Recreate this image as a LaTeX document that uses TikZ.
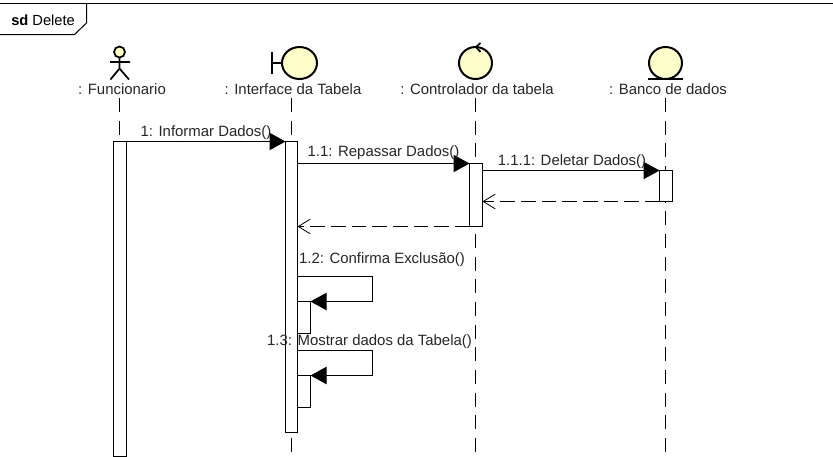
\documentclass[tikz,border=0pt]{standalone}
\usepackage{fontspec}
\setmainfont{Liberation Sans}
\usetikzlibrary{arrows.meta}
\definecolor{elemfill}{HTML}{FFFFCC}
\tikzset{
  x=0.75pt,y=-0.75pt,
  ln/.style={line width=0.75pt,draw=black},
  lifeline/.style={line width=0.75pt,draw=black,dash pattern=on 10.5pt off 6.5pt},
  activation/.style={ln,fill=white,rectangle,inner sep=0pt,outer sep=0pt,minimum width=#1},
  headlabel/.style={font=\fontsize{11.2}{13}\selectfont,inner sep=0pt,text=black!85},
  msglabel/.style={font=\fontsize{11.2}{13}\selectfont,inner sep=0pt,text=black!85},
  callmsg/.style={ln,-{Triangle[length=12pt,width=13pt]}},
  retmsg/.style={line width=0.75pt,draw=black,dash pattern=on 11pt off 4.5pt,-{Straight Barb[length=9pt,width=11pt,line width=0.6pt]}},
  selfmsg/.style={ln,-{Triangle[length=12pt,width=13pt]}},
  glyph/.style={line width=1.5pt,draw=black,fill=elemfill},
  stroke/.style={line width=1.3pt,draw=black},
}
\begin{document}
\begin{tikzpicture}
\useasboundingbox (0,0) rectangle (833,457);
% frame
\draw[ln] (0,3.5) -- (833,3.5);
\draw[ln] (86.5,3.5) -- (86.5,23) -- (74.5,34.5) -- (0,34.5);
\node[anchor=base west,inner sep=0pt,font=\fontsize{11}{13}\selectfont] (frametitle) at (11,25.5) {\textbf{sd} Delete};

% lifeline ends
\coordinate (l1t) at (119.5,98); \coordinate (l1b) at (119.5,457);
\coordinate (l2t) at (291.5,98); \coordinate (l2b) at (291.5,457);
\coordinate (l3t) at (475.5,98); \coordinate (l3b) at (475.5,457);
\coordinate (l4t) at (665.5,98); \coordinate (l4b) at (665.5,457);
\draw[lifeline] (l1t) -- (l1b);
\draw[lifeline] (l2t) -- (l2b);
\draw[lifeline] (l3t) -- (l3b);
\draw[lifeline] (l4t) -- (l4b);

% actor
\draw[glyph,line width=1.3pt] (119.5,52) circle [x radius=5.5,y radius=5.5];
\draw[stroke] (119.5,57.5) -- (119.5,69) (110,62) -- (130,62) (110.5,79.5) -- (119.5,68.5) -- (129,79.5);
% boundary
\draw[glyph] (299.5,63) circle [x radius=17.5,y radius=16];
\draw[stroke,line width=1.5pt] (272,52) -- (272,74) (272,63) -- (282,63);
% control
\draw[glyph] (475.5,63) circle [x radius=16.5,y radius=16];
\draw[stroke] (480.5,43) -- (476,47) -- (480.5,52);
% entity
\draw[glyph] (665.5,63) circle [x radius=16.5,y radius=16];
\draw[stroke,line width=1.5pt] (648,78.5) -- (683,78.5);

% head labels
\node[headlabel] (h1) at (122,89.5) {: Funcionario};
\node[headlabel] (h2) at (293,89.5) {: Interface da Tabela};
\node[headlabel] (h3) at (477,89.5) {: Controlador da tabela};
\node[headlabel] (h4) at (668,89.5) {: Banco de dados};

% activations
\node[activation=9.75pt,minimum height=236.25pt] (a1) at (120,299) {};
\node[activation=9pt,minimum height=218.25pt] (a2) at (291.5,287) {};
\node[activation=9.75pt,minimum height=47.25pt] (a3) at (476,195) {};
\node[activation=9.75pt,minimum height=23.25pt] (a4) at (666,186) {};
\node[activation=9.75pt,minimum height=24pt] (a5) at (304,317.5) {};
\node[activation=9.75pt,minimum height=24pt] (a6) at (304,391.5) {};

% synchronous messages
\draw[callmsg] (a1.north east) -- (a2.north west);
\draw[callmsg] (a2.east |- a3.north) -- (a3.north west);
\draw[callmsg] (a3.east |- a4.north) -- (a4.north west);
% returns
\draw[retmsg] (a4.south west) -- (a3.east |- a4.south);
\draw[retmsg] (a3.south west) -- (a2.east |- a3.south);
% self messages
\coordinate (s2a) at (297.5,276.5); \coordinate (s2b) at (372.5,301.5);
\coordinate (s3a) at (297.5,350.5); \coordinate (s3b) at (372.5,375.5);
\draw[selfmsg] (s2a) -| (s2b) -- (a5.north east);
\draw[selfmsg] (s3a) -| (s3b) -- (a6.north east);

% message labels
\node[msglabel] (m1) at (206,133) {1: Informar Dados()};
\node[msglabel] (m11) at (383.5,153) {1.1: Repassar Dados()};
\node[msglabel] (m111) at (572,162) {1.1.1: Deletar Dados()};
\node[msglabel] (m12) at (382,260) {1.2: Confirma Exclusão()};
\node[msglabel] (m13) at (369.5,342) {1.3: Mostrar dados da Tabela()};
\end{tikzpicture}
\end{document}
